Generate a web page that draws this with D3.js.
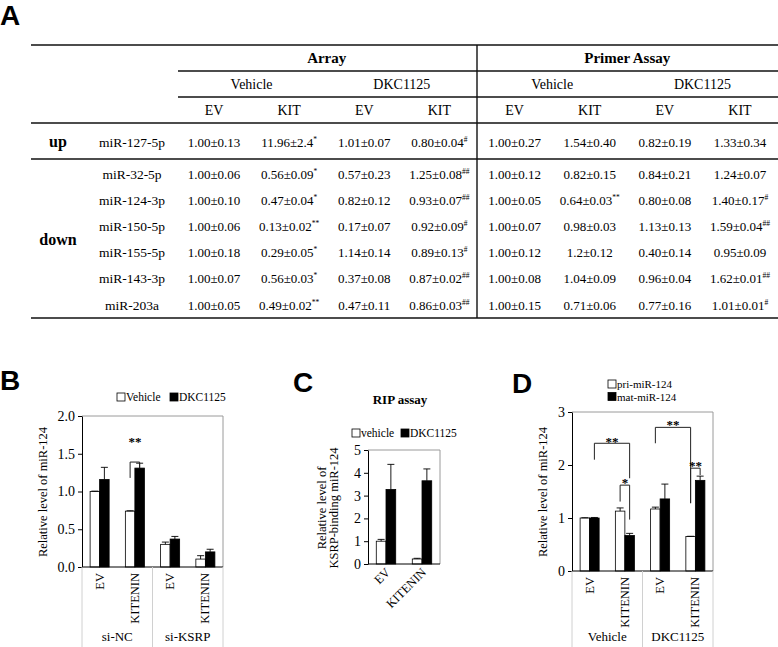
<!DOCTYPE html>
<html><head><meta charset="utf-8">
<script src="https://cdn.jsdelivr.net/npm/d3@7"></script>
<style>body{margin:0;background:#fff}svg{display:block}</style>
</head><body><svg id="c" width="778" height="647"></svg>
<script>
// ---------------- DATA ----------------
// Panel A table
const groupHeaders = ["Array", "Primer Assay"];
const treatHeaders = ["Vehicle", "DKC1125", "Vehicle", "DKC1125"];
const colHeaders = ["EV", "KIT", "EV", "KIT", "EV", "KIT", "EV", "KIT"];
const upLabel = "up", downLabel = "down";
const upRows = ["miR-127-5p"];
const downRows = ["miR-32-5p", "miR-124-3p", "miR-150-5p", "miR-155-5p", "miR-143-3p", "miR-203a"];
const arrayVehEV  = ["1.00±0.13","1.00±0.06","1.00±0.10","1.00±0.06","1.00±0.18","1.00±0.07","1.00±0.05"];
const arrayVehKIT = ["11.96±2.4^*","0.56±0.09^*","0.47±0.04^*","0.13±0.02^**","0.29±0.05^*","0.56±0.03^*","0.49±0.02^**"];
const arrayDkcEV  = ["1.01±0.07","0.57±0.23","0.82±0.12","0.17±0.07","1.14±0.14","0.37±0.08","0.47±0.11"];
const arrayDkcKIT = ["0.80±0.04^#","1.25±0.08^##","0.93±0.07^##","0.92±0.09^#","0.89±0.13^#","0.87±0.02^##","0.86±0.03^##"];
const primerVehEV  = ["1.00±0.27","1.00±0.12","1.00±0.05","1.00±0.07","1.00±0.12","1.00±0.08","1.00±0.15"];
const primerVehKIT = ["1.54±0.40","0.82±0.15","0.64±0.03^**","0.98±0.03","1.2±0.12","1.04±0.09","0.71±0.06"];
const primerDkcEV  = ["0.82±0.19","0.84±0.21","0.80±0.08","1.13±0.13","0.40±0.14","0.96±0.04","0.77±0.16"];
const primerDkcKIT = ["1.33±0.34","1.24±0.07","1.40±0.17^#","1.59±0.04^##","0.95±0.09","1.62±0.01^##","1.01±0.01^#"];

// Panel B
const bCategories = ["EV", "KITENIN", "EV", "KITENIN"];
const bGroups = ["si-NC", "si-KSRP"];
const bSeries = ["Vehicle", "DKC1125"];
const bVehicle = [1.00, 0.74, 0.30, 0.105];
const bVehicleErr = [0.005, 0.005, 0.03, 0.045];
const bDKC = [1.16, 1.31, 0.37, 0.20];
const bDKCErr = [0.16, 0.065, 0.035, 0.035];
const bTicks = [0, 0.5, 1.0, 1.5, 2.0];
const bYLabel = "Relative level of miR-124";

// Panel C
const cTitle = "RIP assay";
const cCategories = ["EV", "KITENIN"];
const cSeries = ["vehicle", "DKC1125"];
const cVehicle = [1.00, 0.22];
const cVehicleErr = [0.08, 0.03];
const cDKC = [3.27, 3.65];
const cDKCErr = [1.10, 0.52];
const cTicks = [0, 1, 2, 3, 4, 5];
const cYLabel = ["Relative level of", "KSRP-binding miR-124"];

// Panel D
const dCategories = ["EV", "KITENIN", "EV", "KITENIN"];
const dGroups = ["Vehicle", "DKC1125"];
const dSeries = ["pri-miR-124", "mat-miR-124"];
const dPri = [1.00, 1.13, 1.17, 0.65];
const dPriErr = [0.005, 0.06, 0.035, 0.005];
const dMat = [1.00, 0.67, 1.36, 1.71];
const dMatErr = [0.01, 0.04, 0.28, 0.08];
const dTicks = [0, 1, 2, 3];
const dYLabel = "Relative level of miR-124";

// ---------------- DRAWING ----------------
const svg = d3.select("#c");
const serif = "'Liberation Serif','Times New Roman',serif";
const sans = "'Liberation Sans',Arial,sans-serif";

function panelLetter(t, x, y) {
  svg.append("text").attr("x", x).attr("y", y).text(t)
    .attr("font-family", sans).attr("font-weight", 900).attr("font-size", 28).attr("fill", "#000");
}
panelLetter("A", 0, 25);
panelLetter("B", 0, 390);
panelLetter("C", 293, 392);
panelLetter("D", 512, 393);

// ---- Table ----
const T = svg.append("g");
const colX = d3.scalePoint().domain(d3.range(8)).range([214, 740]);
const downY = d3.scalePoint().domain(d3.range(downRows.length)).range([174, 305]);
const upY = 142;
const rowYs = [upY].concat(downRows.map((d, i) => downY(i)));
const columns = [arrayVehEV, arrayVehKIT, arrayDkcEV, arrayDkcKIT, primerVehEV, primerVehKIT, primerDkcEV, primerDkcKIT];

function hline(x1, x2, y) {
  T.append("line").attr("x1", x1).attr("x2", x2).attr("y1", y).attr("y2", y)
    .attr("stroke", "#111").attr("stroke-width", 1.4);
}
hline(31, 778, 45);
hline(178, 778, 71);
hline(178, 778, 97);
hline(31, 778, 123);
hline(31, 778, 159);
hline(31, 778, 318);
T.append("line").attr("x1", 477).attr("x2", 477).attr("y1", 45).attr("y2", 318)
  .attr("stroke", "#111").attr("stroke-width", 1.4);

function ttext(s, x, y, size, bold) {
  return T.append("text").attr("x", x).attr("y", y).text(s)
    .attr("text-anchor", "middle").attr("font-family", serif)
    .attr("font-size", size).attr("font-weight", bold ? "bold" : "normal").attr("fill", "#000");
}
ttext(groupHeaders[0], (colX(0) + colX(3)) / 2, 63, 15, true);
ttext(groupHeaders[1], (colX(4) + colX(7)) / 2, 63, 15, true);
treatHeaders.forEach((h, i) => ttext(h, (colX(2 * i) + colX(2 * i + 1)) / 2, 89, 14, false));
colHeaders.forEach((h, i) => ttext(h, colX(i), 115, 14, false));
ttext(upLabel, 58, 147, 16, true);
ttext(downLabel, 58, 245, 16, true);
upRows.concat(downRows).forEach((r, i) => ttext(r, 132, rowYs[i] + 4.5, 13.5, false));

columns.forEach((col, ci) => {
  col.forEach((v, ri) => {
    const parts = v.split("^");
    const t = ttext(parts[0], colX(ci), rowYs[ri] + 4.5, 13, false);
    if (parts[1]) {
      t.append("tspan").attr("dy", -5).attr("font-size", 7.5).text(parts[1]);
    }
  });
});

// ---- Bar charts ----
function drawChart(cfg) {
  const g = svg.append("g");
  const y = d3.scaleLinear().domain([0, cfg.yMax]).range([cfg.bottom, cfg.top]);
  const x = d3.scaleBand().domain(d3.range(cfg.cats.length)).range([cfg.left, cfg.right]);
  const bw = x.bandwidth();
  const xs = d3.scaleBand().domain(d3.range(cfg.series.length)).range([bw * cfg.inner[0], bw * cfg.inner[1]]);
  // frame (top & right)
  g.append("path").attr("d", `M${cfg.left},${cfg.top}H${cfg.right}V${cfg.bottom}`)
    .attr("fill", "none").attr("stroke", "#9a9a9a").attr("stroke-width", 1);
  // bars
  cfg.series.forEach((s, si) => {
    g.selectAll(null).data(s.values).join("rect")
      .attr("x", (d, i) => x(i) + xs(si)).attr("y", d => y(d))
      .attr("width", xs.bandwidth()).attr("height", d => y(0) - y(d))
      .attr("fill", s.fill).attr("stroke", "#000").attr("stroke-width", 0.8);
    g.selectAll(null).data(s.values).join("path")
      .attr("d", (d, i) => {
        const cx = x(i) + xs(si) + xs.bandwidth() / 2;
        const y0 = y(d), y1 = y(d + s.errors[i]);
        return `M${cx},${y0}V${y1}M${cx - 3.5},${y1}H${cx + 3.5}`;
      })
      .attr("stroke", "#000").attr("stroke-width", 0.9).attr("fill", "none");
  });
  // axes
  const ax = d3.axisLeft(y).tickValues(cfg.ticks).tickFormat(cfg.fmt)
    .tickSizeInner(4).tickSizeOuter(0).tickPadding(3);
  const axg = g.append("g").attr("transform", `translate(${cfg.left},0)`).call(ax)
    .attr("font-family", serif).attr("font-size", 14);
  axg.select(".domain").attr("stroke", "#000");
  axg.selectAll(".tick line").attr("stroke", "#000");
  axg.selectAll(".tick text").attr("font-family", serif).attr("font-size", 14).attr("fill", "#000");
  g.append("line").attr("x1", cfg.left).attr("x2", cfg.right).attr("y1", cfg.bottom).attr("y2", cfg.bottom)
    .attr("stroke", "#000").attr("stroke-width", 1);

  // category labels
  if (cfg.rot === -90) {
    cfg.cats.forEach((c, i) => {
      const cx = x(i) + bw / 2 + 4;
      g.append("text").attr("transform", `translate(${cx},${cfg.bottom + 6}) rotate(-90)`)
        .attr("text-anchor", "end").attr("font-family", serif).attr("font-size", 12.5).attr("fill", "#000").text(c);
    });
  } else {
    cfg.cats.forEach((c, i) => {
      const cx = x(i) + bw / 2 + 5;
      g.append("text").attr("transform", `translate(${cx},${cfg.bottom + 9}) rotate(-45)`)
        .attr("text-anchor", "end").attr("font-family", serif).attr("font-size", 12.5).attr("fill", "#000").text(c);
    });
  }
  // groups
  if (cfg.groups) {
    const per = cfg.cats.length / cfg.groups.length;
    const bounds = d3.range(cfg.groups.length + 1).map(k => k * per);
    bounds.forEach(k => {
      const xx = k < cfg.cats.length ? x(k) : cfg.right;
      g.append("line").attr("x1", xx).attr("x2", xx).attr("y1", cfg.bottom).attr("y2", 647)
        .attr("stroke", "#d0d0d0").attr("stroke-width", 1);
    });
    cfg.groups.forEach((gr, k) => {
      const x0 = x(k * per), x1 = k * per + per < cfg.cats.length ? x(k * per + per) : cfg.right;
      g.append("text").attr("x", (x0 + x1) / 2).attr("y", 641).attr("text-anchor", "middle")
        .attr("font-family", serif).attr("font-size", 13).attr("fill", "#000").text(gr);
    });
  }
  // y label
  cfg.ylabel.forEach((l, k) => {
    g.append("text").attr("transform", `translate(${cfg.ylabelX[k]},${cfg.ylabelY}) rotate(-90)`)
      .attr("text-anchor", "middle").attr("font-family", serif).attr("font-size", 12.5).attr("fill", "#000").text(l);
  });
  // brackets
  const bx = (c, s) => x(c) + xs(s) + xs.bandwidth() / 2;
  (cfg.brackets || []).forEach(b => {
    const xa = bx(b.a[0], b.a[1]), xb = bx(b.b[0], b.b[1]);
    g.append("path").attr("d", `M${xa},${y(b.yl)}V${y(b.yt)}H${xb}V${y(b.yr)}`)
      .attr("fill", "none").attr("stroke", "#222").attr("stroke-width", 1);
    g.append("text").attr("x", (xa + xb) / 2).attr("y", y(b.ly) + 7).attr("text-anchor", "middle")
      .attr("font-family", serif).attr("font-size", 13).attr("font-weight", "bold").attr("fill", "#000").text(b.label);
  });
  // legend
  cfg.legend.forEach((L, k) => {
    g.append("rect").attr("x", L.x).attr("y", L.y - 8).attr("width", 8).attr("height", 8)
      .attr("fill", cfg.series[k].fill).attr("stroke", "#000").attr("stroke-width", 0.8);
    g.append("text").attr("x", L.x + 9).attr("y", L.y).attr("font-family", serif)
      .attr("font-size", cfg.legendSize || 12).attr("fill", "#000").text(L.text);
  });
  return g;
}

drawChart({
  left: 82, right: 223, top: 416, bottom: 567, yMax: 2.0, ticks: bTicks, fmt: d3.format(".1f"),
  cats: bCategories, groups: bGroups, inner: [0.23, 0.77], rot: -90,
  series: [{ values: bVehicle, errors: bVehicleErr, fill: "#fff" }, { values: bDKC, errors: bDKCErr, fill: "#000" }],
  ylabel: [bYLabel], ylabelX: [47], ylabelY: 492,
  brackets: [{ a: [1, 0], b: [1, 1], yl: 1.18, yt: 1.39, yr: 1.31, label: "**", ly: 1.70 }],
  legendSize: 11.5,
  legend: [{ x: 117, y: 401, text: bSeries[0] }, { x: 170, y: 401, text: bSeries[1] }]
});

const cg = drawChart({
  left: 368, right: 440, top: 450, bottom: 564, yMax: 5, ticks: cTicks, fmt: d3.format("d"),
  cats: cCategories, groups: null, inner: [0.23, 0.77], rot: -45,
  series: [{ values: cVehicle, errors: cVehicleErr, fill: "#fff" }, { values: cDKC, errors: cDKCErr, fill: "#000" }],
  ylabel: cYLabel, ylabelX: [326, 338], ylabelY: 508,
  legendSize: 11.5,
  legend: [{ x: 352, y: 437, text: cSeries[0] }, { x: 401, y: 437, text: cSeries[1] }]
});
cg.append("text").attr("x", 400).attr("y", 404).attr("text-anchor", "middle").attr("font-family", serif)
  .attr("font-size", 13).attr("font-weight", "bold").attr("fill", "#000").text(cTitle);

drawChart({
  left: 572, right: 713, top: 412, bottom: 571, yMax: 3, ticks: dTicks, fmt: d3.format("d"),
  cats: dCategories, groups: dGroups, inner: [0.23, 0.77], rot: -90,
  series: [{ values: dPri, errors: dPriErr, fill: "#fff" }, { values: dMat, errors: dMatErr, fill: "#000" }],
  ylabel: [dYLabel], ylabelX: [547], ylabelY: 492,
  brackets: [
    { a: [0, 1], b: [1, 1], yl: 2.10, yt: 2.41, yr: 1.75, label: "**", ly: 2.50 },
    { a: [1, 0], b: [1, 1], yl: 1.31, yt: 1.62, yr: 0.97, label: "*", ly: 1.72 },
    { a: [2, 0], b: [3, 0], yl: 2.41, yt: 2.71, yr: 1.28, label: "**", ly: 2.81 },
    { a: [3, 0], b: [3, 1], yl: 1.28, yt: 1.94, yr: 1.81, label: "**", ly: 2.03 }
  ],
  legendSize: 11,
  legend: [{ x: 608, y: 388, text: dSeries[0] }, { x: 608, y: 400.5, text: dSeries[1] }]
});
</script></body></html>
